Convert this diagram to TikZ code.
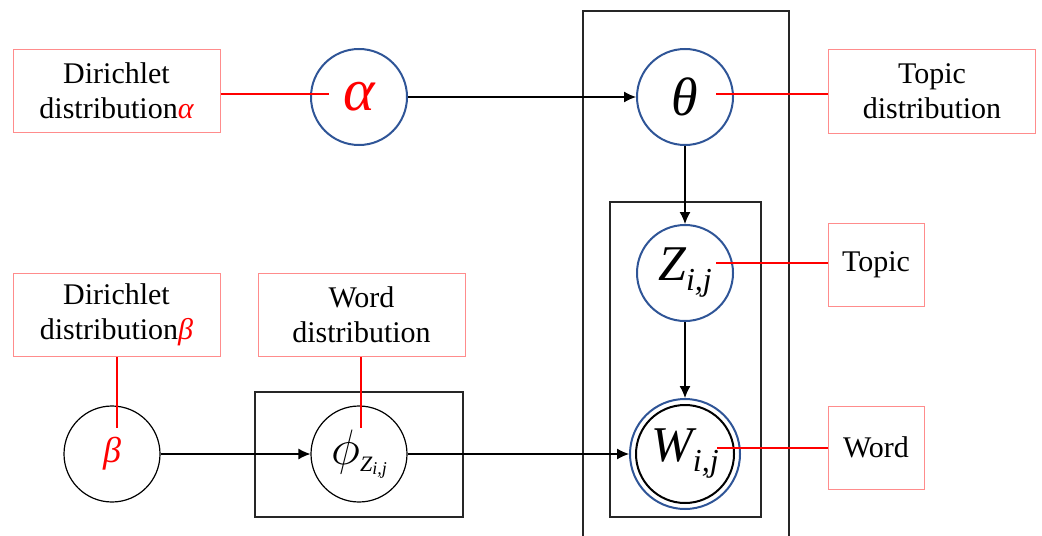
\documentclass[tikz,border=0pt]{standalone}
\usepackage{fontspec}
\setmainfont{Liberation Serif}
\usetikzlibrary{arrows.meta}

\definecolor{nodeblue}{HTML}{2F5597}
\definecolor{boxred}{HTML}{FF8C8C}

% font size helper, sizes in pt
\newcommand{\fsz}[1]{\fontsize{#1}{#1}\selectfont}

\begin{document}
\begin{tikzpicture}[
  x=0.5pt, y=-0.5pt,
  font=\fontsize{15}{17.5}\selectfont,
  var/.style={circle, draw=nodeblue, line width=1pt, minimum size=48pt, inner sep=0pt},
  hyper/.style={circle, draw=black, line width=0.6pt, minimum size=48pt, inner sep=0pt},
  note/.style={draw=boxred, line width=0.5pt, align=center, inner sep=2pt,
    minimum width=103.5pt, minimum height=41.5pt},
  tag/.style={note, minimum width=48pt},
  plate/.style={draw=black!85, line width=0.75pt},
  arr/.style={-{Latex[length=6pt,width=5.5pt]}, line width=0.6pt},
  tie/.style={red, line width=0.6pt}
]
\useasboundingbox (0,0) rectangle (1042,535);
\clip (0,0) rectangle (1042,535);

% plates
\draw[plate] (583,11) rectangle (789,560);
\draw[plate] (610,202) rectangle (761,517);
\draw[plate] (255,392) rectangle (463,517);

% variables
\node[var] (alpha) at (359,97) {\fsz{30}\color{red}\itshape α};
\node[var] (theta) at (685,97) {\fsz{27}\itshape θ};
\node[var] (Z) at (685,273) {\fsz{25}\itshape Z\raisebox{-0.2em}{\fsz{16}i,j}};
\node[circle, draw=nodeblue, line width=1pt, minimum size=55pt, inner sep=0pt] (W) at (685,454) {};
\node[circle, draw=black, line width=1pt, minimum size=49pt, inner sep=0pt] (Win) at (W.center)
  {\fsz{25}\itshape W\raisebox{-0.2em}{\fsz{16}i,j}};
\node[hyper] (beta) at (112,454) {\fsz{18}\color{red}\itshape β};
\node[hyper] (phi) at (359,454) {\fsz{24}$\phi$\raisebox{-0.15em}{\fsz{11}\itshape Z\raisebox{-0.15em}{\fsz{9}i,j}}};

% notes
\node[note] (adir) at (116.5,91) {Dirichlet\\distribution{\color{red}\itshape α}};
\node[note] (tdist) at (932,91.5) {Topic\\distribution};
\node[tag] (topic) at (876,264.5) {Topic};
\node[tag] (word) at (876,447.5) {Word};
\node[note] (bdir) at (116.5,315) {Dirichlet\\distribution{\color{red}\itshape β}};
\node[note] (wdist) at (361.5,315) {Word\\distribution};

% arrows
\draw[arr] (alpha) -- (theta);
\draw[arr] (theta) -- (Z);
\draw[arr] (Z) -- (W);
\draw[arr] (beta) -- (phi);
\draw[arr] (phi) -- (W);

% red ties
\coordinate (alphatie) at (329,94);
\coordinate (thetatie) at (716,94);
\coordinate (Ztie) at (716,263);
\coordinate (Wtie) at (717,448);
\coordinate (betatie) at (117,428);
\coordinate (phitie) at (361,428);
\draw[tie] (adir.east |- alphatie) -- (alphatie);
\draw[tie] (thetatie) -- (tdist.west |- thetatie);
\draw[tie] (Ztie) -- (topic.west |- Ztie);
\draw[tie] (Wtie) -- (word.west |- Wtie);
\draw[tie] (bdir.south -| betatie) -- (betatie);
\draw[tie] (wdist.south -| phitie) -- (phitie);
\end{tikzpicture}
\end{document}
